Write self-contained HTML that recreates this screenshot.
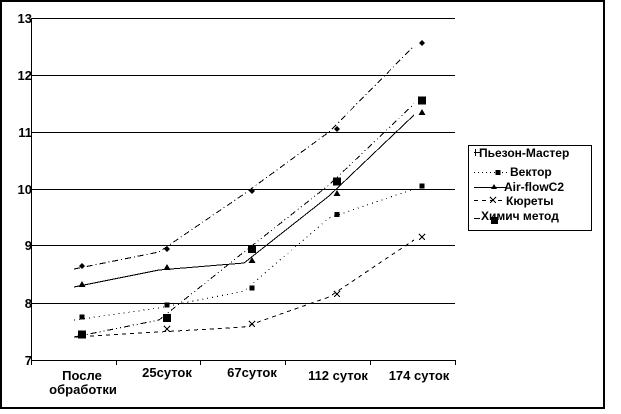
<!DOCTYPE html>
<html><head><meta charset="utf-8"><style>
html,body{margin:0;padding:0;background:#fff;}
svg{display:block;}
text{font-family:"Liberation Sans",Arial,sans-serif;font-weight:bold;fill:#000;}
</style></head><body>
<svg width="621" height="414" viewBox="0 0 621 414" xmlns="http://www.w3.org/2000/svg">
<rect x="0" y="0" width="621" height="414" fill="#fff"/>
<rect x="1" y="1" width="603" height="407" fill="none" stroke="#000" stroke-width="2"/>
<!-- gridlines -->
<g stroke="#000" stroke-width="1" shape-rendering="crispEdges">
<line x1="31" y1="18.5" x2="455" y2="18.5"/>
<line x1="31" y1="75.5" x2="455" y2="75.5"/>
<line x1="31" y1="132.5" x2="455" y2="132.5"/>
<line x1="31" y1="189.5" x2="455" y2="189.5"/>
<line x1="31" y1="245.5" x2="455" y2="245.5"/>
<line x1="31" y1="303.5" x2="455" y2="303.5"/>
<line x1="31" y1="360.5" x2="455" y2="360.5"/>
<line x1="31.5" y1="18" x2="31.5" y2="365"/>
<line x1="116.5" y1="360" x2="116.5" y2="365"/>
<line x1="200.5" y1="360" x2="200.5" y2="365"/>
<line x1="285.5" y1="360" x2="285.5" y2="365"/>
<line x1="370.5" y1="360" x2="370.5" y2="365"/>
<line x1="455.5" y1="360" x2="455.5" y2="365"/>
</g>
<!-- y labels -->
<g font-size="13" text-anchor="end">
<text x="32" y="23">13</text>
<text x="32" y="80">12</text>
<text x="32" y="137">11</text>
<text x="32" y="194">10</text>
<text x="32" y="250">9</text>
<text x="32" y="308">8</text>
<text x="32" y="365">7</text>
</g>
<!-- x labels -->
<g font-size="13" text-anchor="middle">
<text x="82" y="380">После</text>
<text x="83" y="394">обработки</text>
<text x="167" y="377">25суток</text>
<text x="252" y="377">67суток</text>
<text x="338" y="380">112 суток</text>
<text x="419" y="380">174 суток</text>
</g>
<!-- series lines (offset) -->
<g fill="none" stroke="#000" stroke-width="1" shape-rendering="crispEdges">
<polyline stroke-dasharray="6,3,1,3" points="74,269 159,252 244,194 329,132 414,46"/>
<polyline stroke-dasharray="1,4" points="74,320 159,308 244,291 329,218 414,189"/>
<polyline points="74,287 159,270 244,263 329,196 414,115"/>
<polyline stroke-dasharray="4,4" points="74,337 159,332 244,327 329,297 414,240"/>
<polyline stroke-dasharray="6,3,1,3,1,3" points="74,337 159,320 244,252 329,185 414,104"/>
</g>
<!-- markers -->
<g fill="#000">
<!-- diamonds -->
<path d="M82,263 l3,3 l-3,3 l-3,-3z"/>
<path d="M167,246 l3,3 l-3,3 l-3,-3z"/>
<path d="M252,188 l3,3 l-3,3 l-3,-3z"/>
<path d="M337,126 l3,3 l-3,3 l-3,-3z"/>
<path d="M422,40 l3,3 l-3,3 l-3,-3z"/>
<!-- small squares -->
<rect x="79.5" y="314.5" width="5" height="5"/>
<rect x="164.5" y="302.5" width="5" height="5"/>
<rect x="249.5" y="285.5" width="5" height="5"/>
<rect x="334.5" y="212" width="5" height="5"/>
<rect x="419.5" y="183.5" width="5" height="5"/>
<!-- triangles -->
<path d="M82,281 l3.5,6 l-7,0z"/>
<path d="M167,264 l3.5,6 l-7,0z"/>
<path d="M252,257 l3.5,6 l-7,0z"/>
<path d="M337,190 l3.5,6 l-7,0z"/>
<path d="M422,109 l3.5,6 l-7,0z"/>
<!-- big squares -->
<rect x="78" y="330.5" width="8" height="8"/>
<rect x="163" y="314" width="8" height="8"/>
<rect x="248" y="245" width="8" height="8"/>
<rect x="333" y="177.5" width="8" height="8"/>
<rect x="418" y="96.5" width="8" height="8"/>
</g>
<!-- X markers -->
<g stroke="#000" stroke-width="1" fill="none" shape-rendering="crispEdges">
<path d="M164,326 l6,6 M170,326 l-6,6"/>
<path d="M249,321 l6,6 M255,321 l-6,6"/>
<path d="M334,291 l6,6 M340,291 l-6,6"/>
<path d="M419,234 l6,6 M425,234 l-6,6"/>
</g>
<!-- legend -->
<rect x="468.5" y="145.5" width="123" height="85" fill="#fff" stroke="#000" stroke-width="1" shape-rendering="crispEdges"/>
<g stroke="#000" stroke-width="1" fill="none" shape-rendering="crispEdges">
<line x1="474" y1="152.5" x2="481" y2="152.5"/>
<line x1="475.5" y1="149" x2="475.5" y2="156"/>
<line x1="474" y1="172.5" x2="508" y2="172.5" stroke-dasharray="1,3"/>
<line x1="474" y1="187.5" x2="506" y2="187.5"/>
<line x1="474" y1="200.5" x2="506" y2="200.5" stroke-dasharray="4,4"/>
<line x1="474" y1="218.5" x2="480" y2="218.5"/>
</g>
<g fill="#000">
<rect x="495.5" y="170" width="5" height="5"/>
<path d="M494,184 l3,5 l-6,0z"/>
</g>
<path d="M490,197 l6,6 M496,197 l-6,6" stroke="#000" stroke-width="1" fill="none" shape-rendering="crispEdges"/>
<g font-size="12">
<text x="479" y="157">Пьезон-Мастер</text>
<text x="510" y="176">Вектор</text>
<text x="504" y="191">Air-flowC2</text>
<text x="506" y="205">Кюреты</text>
<text x="481" y="220">Химич метод</text>
</g>
<rect x="491" y="217" width="7" height="7" fill="#000"/>
</svg>
</body></html>
